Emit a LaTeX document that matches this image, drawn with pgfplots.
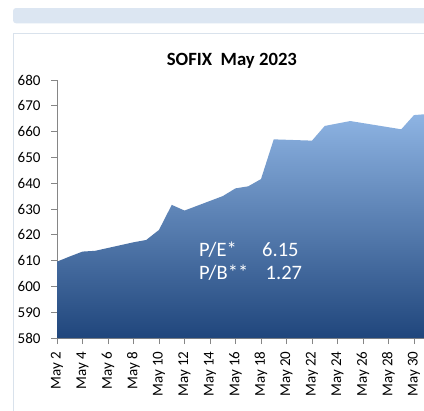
\documentclass[border=0pt]{standalone}
\usepackage{pgfplots}
\pgfplotsset{compat=1.18}
\usepackage{fontspec}
\setmainfont{Carlito}
\definecolor{axisgray}{RGB}{134,134,134}
\definecolor{bandblue}{RGB}{220,230,242}
\definecolor{framecol}{RGB}{217,226,236}
\definecolor{areatop}{RGB}{142,180,227}
\definecolor{areabot}{RGB}{32,70,124}
\begin{document}
\begin{tikzpicture}[x=1bp,y=1bp]
\useasboundingbox (0,0) rectangle (424,-411);
\clip (0,0) rectangle (424,-411);
\fill[white] (0,0) rectangle (424,-411);
\fill[bandblue, rounded corners=3bp] (13,-8) rectangle (440,-23.3);
\draw[framecol, line width=1bp] (13.5,-440) -- (13.5,-33.5) -- (440,-33.5);
\node[anchor=base west, inner sep=0pt, font=\fontsize{18.7bp}{22bp}\selectfont\bfseries] at (166.7,-65.7) {SOFIX\ \ May 2023};
\begin{axis}[
  at={(57bp,-338bp)}, anchor=south west,
  scale only axis, width=369.75bp, height=258bp,
  xmin=2, xmax=31, ymin=580, ymax=680,
  axis x line*=bottom, axis y line*=left,
  axis line style={draw=axisgray, line width=1bp, -},
  tick style={draw=axisgray, line width=1bp},
  tick align=outside, major tick length=6bp,
  ytick={580,590,...,680},
  xtick={2,4,...,30},
  xticklabels={May 2,May 4,May 6,May 8,May 10,May 12,May 14,May 16,May 18,May 20,May 22,May 24,May 26,May 28,May 30},
  xticklabel style={yshift=-4bp, rotate=90, anchor=east, font=\fontsize{15bp}{16bp}\selectfont},
  yticklabel style={xshift=-7bp, font=\fontsize{15bp}{16bp}\selectfont},
  /pgf/number format/assume math mode=true,
  clip=false,
]
\addplot[draw=none, top color=areatop, bottom color=areabot] table {
x y
2 609.6
3 611.6
4 613.5
5 613.8
8 617.1
9 618.0
10 621.9
11 631.6
12 629.4
15 635.0
16 638.0
17 638.8
18 641.6
19 657.0
22 656.5
23 662.2
25 664.1
26 663.3
29 660.9
30 666.4
31 666.8
} \closedcycle;
\end{axis}
\node[anchor=base west, inner sep=0pt, text=white, font=\fontsize{20.5bp}{24bp}\selectfont] at (199,-256) {P/E*};
\node[anchor=base west, inner sep=0pt, text=white, font=\fontsize{20.5bp}{24bp}\selectfont] at (262,-256) {6.15};
\node[anchor=base west, inner sep=0pt, text=white, font=\fontsize{20.5bp}{24bp}\selectfont] at (199,-279) {P/B**};
\node[anchor=base west, inner sep=0pt, text=white, font=\fontsize{20.5bp}{24bp}\selectfont] at (265.5,-279) {1.27};
\end{tikzpicture}
\end{document}
